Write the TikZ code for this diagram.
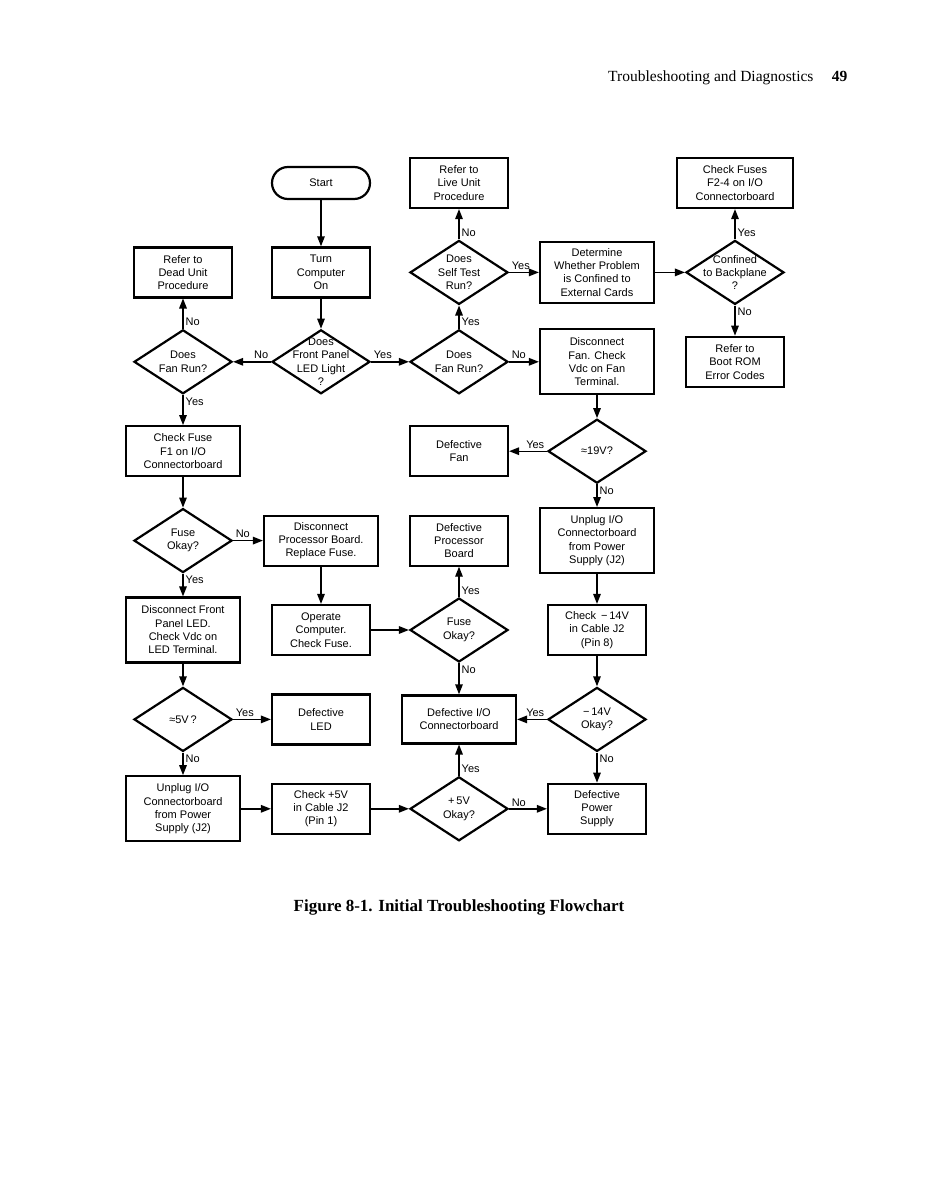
\documentclass[tikz,border=0pt]{standalone}
\usepackage{fontspec}
\setmainfont{Liberation Serif}
\newfontfamily\chartfont{Liberation Sans}
\usetikzlibrary{
    arrows.meta,
    positioning,
    shapes.geometric
}

\begin{document}
\begin{tikzpicture}[
    x=1pt, y=-1pt,
    node distance=89.4pt and 138pt,
    on grid,
    >={Triangle[length=10pt,width=7.5pt]},
    box/.style={
        rectangle,
        draw,
        line width=2.2pt,
        align=center,
        font=\chartfont\fontsize{11}{13.3}\selectfont,
        minimum width=98pt,
        minimum height=50pt,
        inner sep=2pt
    },
    widebox/.style={
        box,
        minimum width=114pt
    },
    tallbox/.style={
        box,
        minimum width=114pt,
        minimum height=65pt
    },
    terminal/.style={
        box,
        rounded corners=16pt,
        minimum height=32pt
    },
    decision/.style={
        diamond,
        draw,
        line width=2.2pt,
        align=center,
        font=\chartfont\fontsize{11}{13.3}\selectfont,
        minimum width=98pt,
        minimum height=64pt,
        inner sep=-40pt
    },
    line/.style={draw, ->, line width=1.4pt},
    lbl/.style={font=\chartfont\fontsize{11}{13}\selectfont, inner sep=2pt}
]
\useasboundingbox (0,0) rectangle (925,1193);

% Page header and caption
\node[anchor=base east, font=\fontsize{15.5}{18}\selectfont] (pagehead) at (817,82) {Troubleshooting and Diagnostics};
\node[anchor=base east, font=\bfseries\fontsize{15.5}{18}\selectfont] (pagenum) at (851,82) {49};
\node[anchor=base, font=\bfseries\fontsize{17}{20}\selectfont] (caption) at (459,911) {Figure 8-1. Initial Troubleshooting Flowchart};

% Centre column
\node[terminal] (start) at (321,183) {Start};
\node[box, below=of start] (turnon) {Turn\\Computer\\On};
\node[decision, below=of turnon] (ledlight) {Does\\Front Panel\\LED Light\\?};

% Left column
\node[decision, left=of ledlight] (fanleft) {Does\\Fan Run?};
\node[box, above=of fanleft] (deadunit) {Refer to\\Dead Unit\\Procedure};
\node[widebox, below=of fanleft] (checkfone) {Check Fuse\\F1 on I/O\\Connectorboard};
\node[decision, below=of checkfone] (fuseleft) {Fuse\\Okay?};
\node[tallbox, below=of fuseleft] (discled) {Disconnect Front\\Panel LED.\\Check Vdc on\\LED Terminal.};
\node[decision, below=of discled] (fivevolt) {≈5V\,?};
\node[tallbox, below=of fivevolt] (unplugleft) {Unplug I/O\\Connectorboard\\from Power\\Supply (J2)};

% Second column, lower part
\node[widebox, right=of fuseleft] (discproc) {Disconnect\\Processor Board.\\Replace Fuse.};
\node[box, below=of discproc] (operate) {Operate\\Computer.\\Check Fuse.};
\node[box, right=of fivevolt] (defled) {Defective\\LED};
\node[box, right=of unplugleft] (checkfive) {Check +5V\\in Cable J2\\(Pin 1)};

% Third column
\node[decision, right=of ledlight] (fanmid) {Does\\Fan Run?};
\node[decision, above=of fanmid] (selftest) {Does\\Self Test\\Run?};
\node[box, above=of selftest] (liveunit) {Refer to\\Live Unit\\Procedure};
\node[box, below=of fanmid] (deffan) {Defective\\Fan};
\node[box, below=of deffan] (defproc) {Defective\\Processor\\Board};
\node[decision, below=of defproc] (fusemid) {Fuse\\Okay?};
\node[widebox, minimum height=48pt, below=of fusemid] (defio) {Defective I/O\\Connectorboard};
\node[decision, below=of defio] (fiveok) {+\,5V\\Okay?};

% Fourth column
\node[tallbox, minimum height=61pt, right=of selftest] (determine) {Determine\\Whether Problem\\is Confined to\\External Cards};
\node[tallbox, right=of fanmid] (discfan) {Disconnect\\Fan. Check\\Vdc on Fan\\Terminal.};
\node[decision, below=of discfan] (nineteen) {≈19V?};
\node[tallbox, below=of nineteen] (unplugright) {Unplug I/O\\Connectorboard\\from Power\\Supply (J2)};
\node[box, below=of unplugright] (checkfourteen) {Check \,−\,14V\\in Cable J2\\(Pin 8)};
\node[decision, below=of checkfourteen] (fourteenok) {−\,14V\\Okay?};
\node[box, below=of fourteenok] (defpower) {Defective\\Power\\Supply};

% Fifth column
\node[decision, right=of determine] (backplane) {Confined\\to Backplane\\?};
\node[widebox, minimum width=116pt, above=of backplane] (checkfuses) {Check Fuses\\F2-4 on I/O\\Connectorboard};
\node[box, below=of backplane] (bootrom) {Refer to\\Boot ROM\\Error Codes};

% Main flow arrows
\draw[line] (start) -- (turnon);
\draw[line] (turnon) -- (ledlight);
\draw[line] (ledlight.west) -- node[lbl, at start, anchor=south east] {No} (fanleft.east);
\draw[line] (ledlight.east) -- node[lbl, at start, anchor=south west] {Yes} (fanmid.west);

% Dead unit branch
\draw[line] (fanleft.north) -- node[lbl, at start, anchor=south west] {No} (deadunit.south);
\draw[line] (fanleft.south) -- node[lbl, at start, anchor=north west] {Yes} (checkfone.north);
\draw[line] (checkfone) -- (fuseleft);
\draw[line] (fuseleft.east) -- node[lbl, at start, anchor=south west] {No} (discproc.west);
\draw[line] (fuseleft.south) -- node[lbl, at start, anchor=north west] {Yes} (discled.north);
\draw[line] (discproc) -- (operate);
\draw[line] (operate.east) -- (fusemid.west);
\draw[line] (fusemid.north) -- node[lbl, at start, anchor=south west] {Yes} (defproc.south);
\draw[line] (fusemid.south) -- node[lbl, at start, anchor=north west] {No} (defio.north);
\draw[line] (discled) -- (fivevolt);
\draw[line] (fivevolt.east) -- node[lbl, at start, anchor=south west] {Yes} (defled.west);
\draw[line] (fivevolt.south) -- node[lbl, at start, anchor=north west] {No} (unplugleft.north);
\draw[line] (unplugleft.east) -- (checkfive.west);
\draw[line] (checkfive.east) -- (fiveok.west);
\draw[line] (fiveok.north) -- node[lbl, at start, anchor=south west] {Yes} (defio.south);
\draw[line] (fiveok.east) -- node[lbl, at start, anchor=south west] {No} (defpower.west);

% Live unit branch
\draw[line] (fanmid.north) -- node[lbl, at start, anchor=south west] {Yes} (selftest.south);
\draw[line] (fanmid.east) -- node[lbl, at start, anchor=south west] {No} (discfan.west);
\draw[line] (selftest.north) -- node[lbl, at start, anchor=south west] {No} (liveunit.south);
\draw[line] (selftest.east) -- node[lbl, at start, anchor=south west] {Yes} (determine.west);
\draw[line] (determine.east) -- (backplane.west);
\draw[line] (backplane.north) -- node[lbl, at start, anchor=south west] {Yes} (checkfuses.south);
\draw[line] (backplane.south) -- node[lbl, at start, anchor=north west] {No} (bootrom.north);

% Fan and supply checks
\draw[line] (discfan) -- (nineteen);
\draw[line] (nineteen.west) -- node[lbl, at start, anchor=south east] {Yes} (deffan.east);
\draw[line] (nineteen.south) -- node[lbl, at start, anchor=north west] {No} (unplugright.north);
\draw[line] (unplugright) -- (checkfourteen);
\draw[line] (checkfourteen) -- (fourteenok);
\draw[line] (fourteenok.west) -- node[lbl, at start, anchor=south east] {Yes} (defio.east);
\draw[line] (fourteenok.south) -- node[lbl, at start, anchor=north west] {No} (defpower.north);

\end{tikzpicture}
\end{document}
